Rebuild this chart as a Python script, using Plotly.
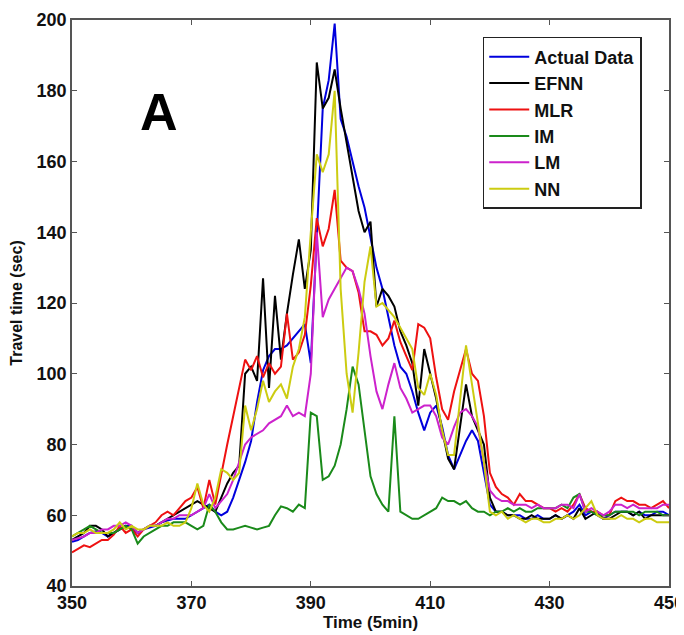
import plotly.graph_objects as go

# time index (5-min intervals)
t_start = 350
t_end = 450
time = list(range(t_start, t_end + 1))

actual = [
    52.5, 53, 54, 55, 55.5, 55, 54, 55, 56, 57,        # 350-359
    57, 55, 56, 56.5, 57, 58, 58.5, 59, 59, 59,        # 360-369
    60, 61, 62, 63, 61, 60, 61, 65, 70, 75,            # 370-379
    81, 92, 101, 105, 107, 107, 108, 110, 112, 114,    # 380-389
    103, 140, 175, 183, 199, 172, 167, 160, 153, 147,  # 390-399
    139, 130, 124, 116, 108, 102, 100, 95, 89, 84,     # 400-409
    89, 91, 85, 77, 73, 77, 81, 84, 81, 72,            # 410-419
    63, 61, 61, 60, 60, 60, 59, 59, 60, 59,            # 420-429
    59, 60, 59, 60, 61, 63, 60, 61, 60, 59,            # 430-439
    60, 61, 61, 61, 60, 61, 60, 60, 61, 61,            # 440-449
    60,                                                # 450
]

efnn = [
    53, 54, 55, 57, 57, 56, 54, 55, 56, 57,
    56, 55, 56, 57, 57, 58, 59, 60, 61, 62,
    63, 64, 63, 62, 61, 65, 69, 72, 74, 100,
    102, 98, 127, 96, 122, 104, 117, 128, 138, 124,
    135, 188, 175, 178, 186, 175, 165, 156, 146, 140,
    143, 119, 124, 122, 119, 112, 108, 103, 91, 107,
    100, 93, 84, 76, 73, 85, 97, 88, 84, 80,
    65, 61, 61, 60, 60, 59, 59, 60, 59, 59,
    59, 60, 59, 60, 59, 62, 59, 60, 61, 59,
    59, 60, 61, 61, 60, 61, 59, 60, 60, 60,
    60,
]

mlr = [
    49.5, 50.5, 51.5, 51, 52, 53, 53, 54.5, 57, 55,
    56, 54, 56, 57, 58, 60, 61, 60, 62, 64,
    65, 68, 62, 70, 63, 72, 80, 88, 96, 104,
    101, 105, 99, 103, 100, 102, 117, 104, 106, 111,
    125, 144, 136, 141, 152, 132, 130, 129, 123, 112,
    112, 111, 108, 110, 115, 109, 105, 101, 114, 113,
    110, 99, 90, 87, 95, 101, 107, 100, 98, 88,
    72, 68, 66, 65, 63, 66, 64, 64, 63, 62,
    62, 61, 62, 61, 63, 66, 62, 61, 61, 60,
    60, 64, 65, 64, 64, 63, 63, 62, 63, 64,
    62,
]

im = [
    54, 55, 56, 57, 56, 55, 55, 55, 56, 57,
    56, 52, 54, 55, 56, 57, 57, 58, 58, 58,
    57, 56, 57, 63, 61, 58, 56, 56, 56.5, 57,
    56.5, 56, 56.5, 57, 60, 62.5, 62, 61, 63, 62,
    89, 88, 70, 71, 74, 80, 90, 102, 97, 84,
    71, 66, 63, 61, 88, 61, 60, 59, 59, 60,
    61, 62, 65, 64, 64, 63, 64, 62, 61, 61,
    60, 61, 61, 62, 61, 62, 61, 61, 62, 62,
    62, 62, 63, 62, 65, 66, 61, 61, 60, 60,
    60, 61, 61, 61, 61, 60, 61, 61, 61, 60,
    60,
]

lm = [
    53, 53.5, 54, 55, 55, 56, 56, 57, 57, 58,
    57, 55, 56, 57, 57, 58, 59, 59, 60, 60,
    60, 61, 62, 66, 62, 64, 66, 70, 75, 80,
    82, 83, 84, 86, 87, 88, 91, 88, 89, 88,
    100, 140, 116, 121, 124, 127, 130, 129, 124, 117,
    105, 95, 90, 97, 103, 96, 93, 89, 90, 91,
    91, 88, 82, 80, 85, 89, 90, 88, 85, 75,
    67, 65, 64, 64, 63, 63, 63, 62, 63, 62,
    62, 62, 63, 63, 62, 66, 61, 62, 61, 60,
    61, 63, 63, 62, 63, 62, 62, 62, 62, 63,
    63,
]

nn = [
    54, 55, 55, 56, 55, 55, 55, 56, 58, 56,
    57, 56, 56, 57, 57, 57, 58, 57, 57, 58,
    62, 69, 63, 61, 65, 73, 72, 70, 72, 91,
    84, 90, 98, 92, 95, 97, 93, 102, 107, 116,
    140, 162, 157, 162, 180, 124, 100, 89, 106, 126,
    136, 119, 120, 118, 116, 113, 110, 107, 96, 94,
    100, 94, 84, 77, 77, 93, 108, 97, 86, 75,
    61, 60, 61, 59, 60, 59, 58, 59, 59, 58,
    58, 59, 59, 60, 59, 60, 62, 64, 60, 59,
    59, 59, 60, 59, 59, 58, 59, 59, 58, 58,
    58,
]

series_names = ["Actual Data", "EFNN", "MLR", "IM", "LM", "NN"]
series_values = [actual, efnn, mlr, im, lm, nn]
series_colors = ["#0000dd", "#000000", "#ee1111", "#1a8a1a", "#cc22cc", "#cccc11"]

x_ticks = [350, 370, 390, 410, 430, 450]
y_ticks = [40, 60, 80, 100, 120, 140, 160, 180, 200]

fig = go.Figure()
for name, vals, col in zip(series_names, series_values, series_colors):
    fig.add_trace(go.Scatter(
        x=time[:len(vals)], y=vals, mode="lines", name=name,
        line=dict(color=col, width=2),
    ))

font_family = "Arial, Liberation Sans, sans-serif"
axis_common = dict(
    showline=True, linecolor="#555555", linewidth=1.5, mirror="ticks",
    ticks="inside", ticklen=5, tickwidth=1.2, tickcolor="#555555",
    showgrid=False, zeroline=False, automargin=False,
    ticklabeloverflow="allow",
    tickfont=dict(family=font_family, size=18, color="#111111", weight="bold"),
)

# page body has an 8px margin, so the figure is sized/offset to compensate
fig.update_layout(
    width=684, height=627,
    margin=dict(l=64, r=23, t=12, b=49),
    paper_bgcolor="white", plot_bgcolor="white",
    font=dict(family=font_family, color="#111111"),
    xaxis=dict(range=[350, 450], tickvals=x_ticks, **axis_common,
               title=dict(text="Time (5min)", standoff=2,
                          font=dict(family=font_family, size=17, weight="bold"))),
    yaxis=dict(range=[40, 200], tickvals=y_ticks, **axis_common,
               title=dict(text="Travel time (sec)", standoff=14,
                          font=dict(family=font_family, size=16, weight="bold"))),
    legend=dict(
        x=0.688, y=0.970, xanchor="left", yanchor="top",
        bgcolor="white", bordercolor="#222222", borderwidth=1.5,
        font=dict(family=font_family, size=18, color="#111111", weight="bold"),
        itemwidth=40, tracegroupgap=0,
    ),
    showlegend=True,
)

fig.add_annotation(
    x=0.1106, y=0.892, xref="paper", yref="paper",
    text="A", showarrow=False,
    font=dict(family=font_family, size=52, color="black", weight="bold"),
)

fig.write_html("out.html")
